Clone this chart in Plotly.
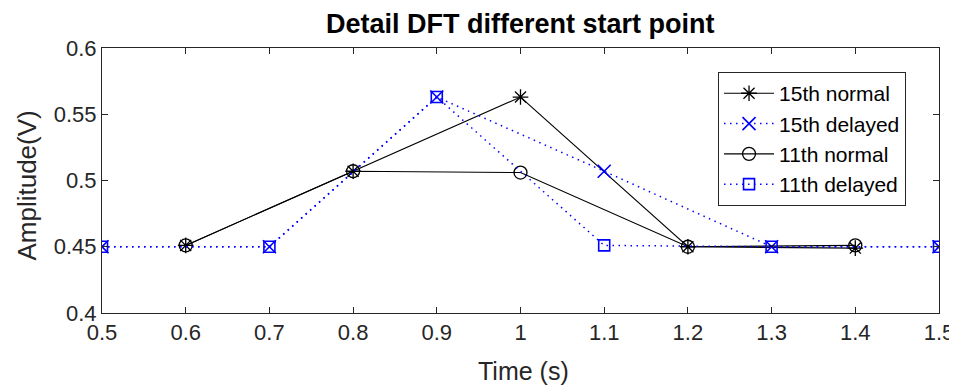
import plotly.graph_objects as go

t_normal = [0.6, 0.8, 1.0, 1.2, 1.4]
t_delayed = [0.5, 0.7, 0.9, 1.1, 1.3, 1.5]
h15_normal = [0.451, 0.507, 0.563, 0.45, 0.449]
h15_delayed = [0.45, 0.45, 0.563, 0.507, 0.45, 0.45]
h11_normal = [0.451, 0.507, 0.506, 0.45, 0.451]
h11_delayed = [0.45, 0.45, 0.563, 0.451, 0.45, 0.45]
x_ticks = [0.5, 0.6, 0.7, 0.8, 0.9, 1.0, 1.1, 1.2, 1.3, 1.4, 1.5]
x_ticklabels = ["0.5", "0.6", "0.7", "0.8", "0.9", "1", "1.1", "1.2", "1.3", "1.4", "1.5"]
y_ticks = [0.4, 0.45, 0.5, 0.55, 0.6]
y_ticklabels = ["0.4", "0.45", "0.5", "0.55", "0.6"]
title_text = "Detail DFT different start point"
x_title = "Time (s)"
y_title = "Amplitude(V)"

FONT = "Liberation Sans, Arial, sans-serif"
AX = "#262626"
DOT = "1.5px,4.5px"

fig = go.Figure()
fig.add_trace(go.Scatter(x=t_normal, y=h15_normal, name="15th normal", mode="lines+markers",
                         line=dict(color="black", width=1.1),
                         marker=dict(symbol="asterisk-open", size=13, color="black", line=dict(width=1.3, color="black"))))
fig.add_trace(go.Scatter(x=t_delayed, y=h15_delayed, name="15th delayed", mode="lines+markers",
                         line=dict(color="#0000ff", width=1.5, dash=DOT),
                         marker=dict(symbol="x-thin-open", size=13, color="#0000ff", line=dict(width=1.6, color="#0000ff"))))
fig.add_trace(go.Scatter(x=t_normal, y=h11_normal, name="11th normal", mode="lines+markers",
                         line=dict(color="black", width=1.1),
                         marker=dict(symbol="circle-open", size=13, color="black", line=dict(width=1.3, color="black"))))
fig.add_trace(go.Scatter(x=t_delayed, y=h11_delayed, name="11th delayed", mode="lines+markers",
                         line=dict(color="#0000ff", width=1.5, dash=DOT),
                         marker=dict(symbol="square-open", size=11, color="#0000ff", line=dict(width=1.6, color="#0000ff"))))

fig.update_layout(
    width=949, height=379,
    margin=dict(l=94, r=18, t=40, b=74, autoexpand=False),
    paper_bgcolor="white", plot_bgcolor="white",
    font=dict(family=FONT, color=AX),
    showlegend=True,
    legend=dict(x=0.736, y=0.909, xanchor="left", yanchor="top",
                bordercolor=AX, borderwidth=1, bgcolor="white",
                font=dict(size=21, color="black", family=FONT),
                tracegroupgap=0, itemwidth=50),
    annotations=[
        dict(text="<b>" + title_text + "</b>", xref="paper", yref="paper", x=0.5, y=1.09,
             xanchor="center", yanchor="middle", showarrow=False,
             font=dict(size=27, color="black", family=FONT)),
        dict(text=x_title, xref="paper", yref="paper", x=0.504, y=-0.218,
             xanchor="center", yanchor="middle", showarrow=False,
             font=dict(size=25, color=AX, family=FONT)),
        dict(text=y_title, xref="paper", yref="paper", x=-0.0896, y=0.481, textangle=-90,
             xanchor="center", yanchor="middle", showarrow=False,
             font=dict(size=26, color=AX, family=FONT)),
    ],
)
fig.update_xaxes(range=[0.5, 1.5], tickvals=x_ticks, ticktext=x_ticklabels, automargin=False,
                 ticks="inside", ticklen=6, tickcolor=AX, showline=True, linecolor=AX, linewidth=1,
                 mirror="ticks", showgrid=False, zeroline=False,
                 tickfont=dict(size=22, family=FONT, color=AX))
fig.update_yaxes(range=[0.4, 0.6], tickvals=y_ticks, ticktext=y_ticklabels, automargin=False,
                 ticks="inside", ticklen=6, tickcolor=AX, showline=True, linecolor=AX, linewidth=1,
                 mirror="ticks", showgrid=False, zeroline=False,
                 tickfont=dict(size=22, family=FONT, color=AX))

fig.write_html("out.html")
